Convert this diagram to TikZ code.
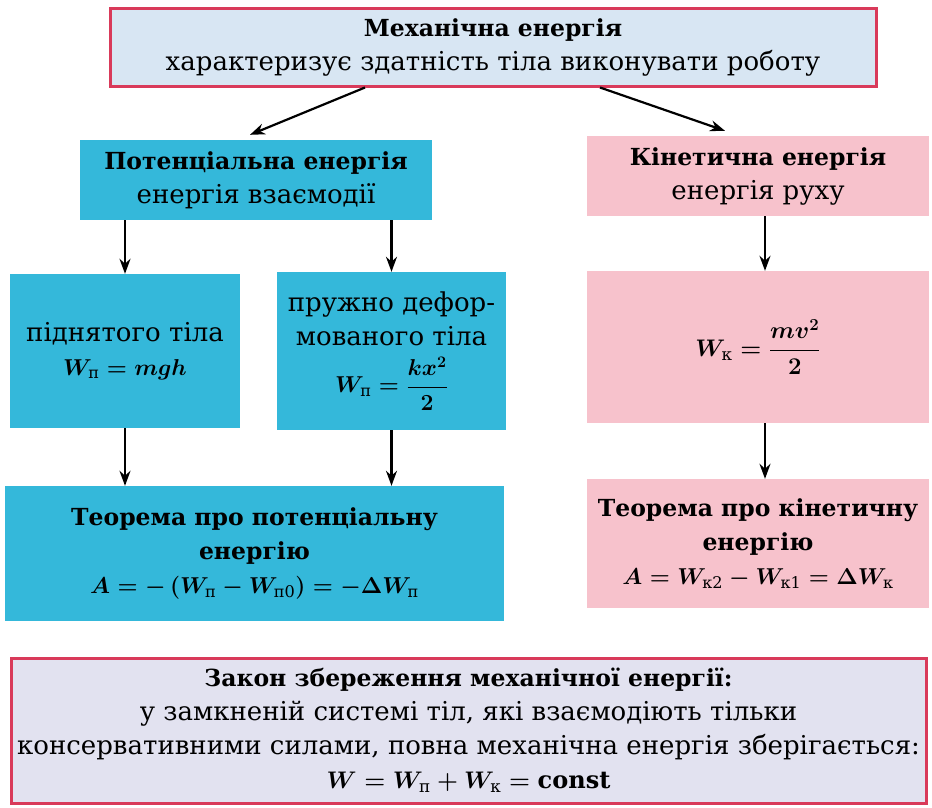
\documentclass[tikz,border=0pt]{standalone}
\usepackage{fix-cm}
\usepackage{amsmath}
\usepackage{fontspec}
\setmainfont{DejaVu Serif}
\usetikzlibrary{arrows.meta}
\definecolor{cyanfill}{RGB}{52,184,218}
\definecolor{pinkfill}{RGB}{247,194,204}
\definecolor{bluefill}{RGB}{216,230,243}
\definecolor{lilacfill}{RGB}{226,226,240}
\definecolor{redline}{RGB}{217,58,90}
\newcommand{\hd}[1]{{\fontsize{23.5}{34}\selectfont\bfseries #1}}
\newcommand{\frm}[2][23]{{\fontsize{#1}{34}\selectfont\boldmath$#2$}}
\begin{document}
\begin{tikzpicture}[x=1pt, y=-1pt, >={Stealth[length=15pt,width=11pt]},
  every node/.style={align=center, inner sep=0pt, font=\fontsize{26}{34}\selectfont},
  cyanbox/.style={fill=cyanfill},
  pinkbox/.style={fill=pinkfill},
  lawbox/.style={draw=redline, line width=3pt},
  arr/.style={->, line width=2.2pt}]
  \useasboundingbox (0,0) rectangle (932,807);
  \node[lawbox, fill=bluefill, minimum width=766, minimum height=78] (mech) at (493,47)
    {\hd{Механічна енергія}\\характеризує здатність тіла виконувати роботу};
  \node[cyanbox, minimum width=352, minimum height=80] (pot) at (256,180)
    {\hd{Потенціальна енергія}\\енергія взаємодії};
  \node[pinkbox, minimum width=342, minimum height=80] (kin) at (758,176)
    {\hd{Кінетична енергія}\\енергія руху};
  \node[cyanbox, minimum width=230, minimum height=154] (lift) at (125,351)
    {піднятого тіла\\\frm{W_{\text{п}} = mgh}};
  \node[cyanbox, minimum width=229, minimum height=158] (spring) at (391.5,351)
    {пружно дефор-\\мованого тіла\\[10pt]\frm{W_{\text{п}} = \dfrac{kx^2}{2}}};
  \node[pinkbox, minimum width=342, minimum height=152] (kform) at (758,347)
    {\frm[24]{W_{\text{к}} = \dfrac{mv^2}{2}}};
  \node[cyanbox, minimum width=499, minimum height=135] (tpot) at (254.5,553.5)
    {\hd{Теорема про потенціальну}\\\hd{енергію}\\\frm{A = -\left(W_{\text{п}} - W_{\text{п0}}\right) = -\Delta W_{\text{п}}}};
  \node[pinkbox, minimum width=342, minimum height=129] (tkin) at (758,543.5)
    {\hd{Теорема про кінетичну}\\\hd{енергію}\\\frm{A = W_{\text{к2}} - W_{\text{к1}} = \Delta W_{\text{к}}}};
  \node[lawbox, fill=lilacfill, minimum width=915, minimum height=145] (law) at (468.5,730.5)
    {\hd{Закон збереження механічної енергії:}\\у замкненій системі тіл, які взаємодіють тільки\\консервативними силами, повна механічна енергія зберігається:\\\frm[24]{W = W_{\text{п}} + W_{\text{к}} = \mathrm{const}}};
  \coordinate (k1) at ([xshift=7]kin.south);
  \coordinate (k2) at ([xshift=7]kform.north);
  \coordinate (k3) at ([xshift=7]kform.south);
  \coordinate (k4) at ([xshift=7]tkin.north);
  \draw[arr] ([xshift=-128]mech.south) -- ([xshift=-6,yshift=5]pot.north);
  \draw[arr] ([xshift=107]mech.south) -- ([xshift=-33,yshift=5]kin.north);
  \draw[arr] (lift.north |- pot.south) -- (lift.north);
  \draw[arr] (spring.north |- pot.south) -- (spring.north);
  \draw[arr] (k1) -- (k2);
  \draw[arr] (lift.south) -- (lift.south |- tpot.north);
  \draw[arr] (spring.south) -- (spring.south |- tpot.north);
  \draw[arr] (k3) -- (k4);
\end{tikzpicture}
\end{document}
